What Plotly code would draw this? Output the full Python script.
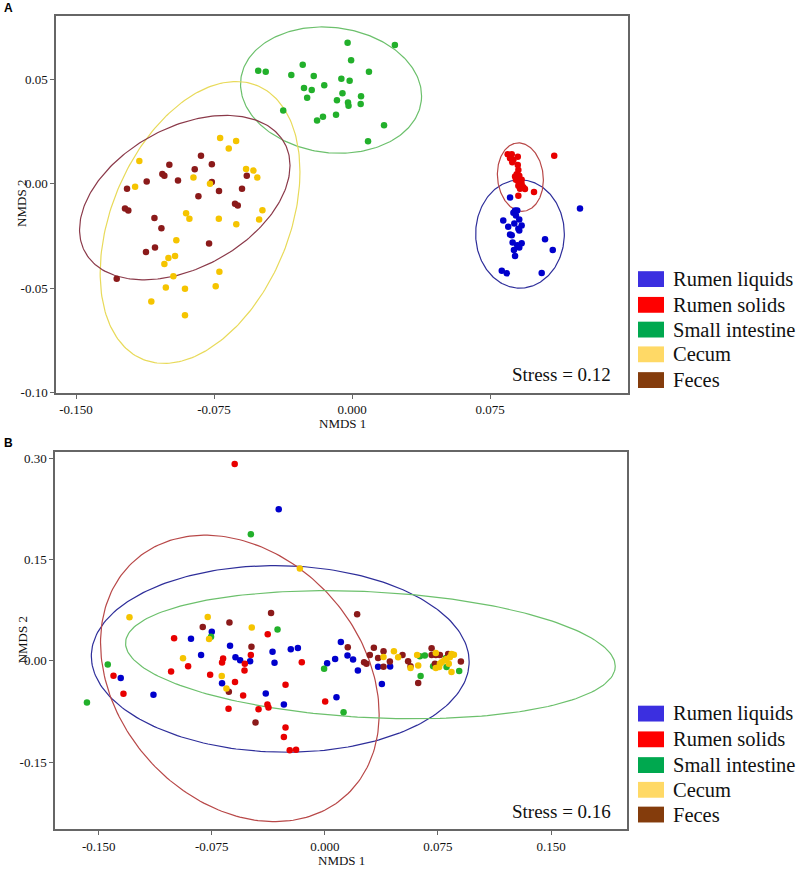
import numpy as np
import plotly.graph_objects as go

W, H = 800, 876
SERIF = "Liberation Serif, Times New Roman, serif"

groups = ["Rumen liquids", "Rumen solids", "Small intestine", "Cecum", "Feces"]
point_colors = ["#0000CC", "#E80000", "#22B02B", "#F5C400", "#8B1A1A"]
ellipse_colors = ["#2E2E9A", "#B84848", "#6CC06C", "#E8DA5A", "#8B3A4A"]
legend_colors = ["#3B2FE0", "#FF0000", "#00A84F", "#FFD966", "#843C0C"]

# ---------------- Panel A data ----------------
a_liq_x = [0.0859, 0.1239, 0.0886, 0.0898, 0.0877, 0.0891, 0.0822, 0.0909, 0.0882, 0.0922,
           0.0849, 0.0904, 0.0859, 0.0868, 0.1049, 0.0909, 0.0873, 0.0922, 0.0898, 0.0909,
           0.0880, 0.1091, 0.0886, 0.0814, 0.0841, 0.1031]
a_liq_y = [-0.0065, -0.0118, -0.0128, -0.0128, -0.0139, -0.0152, -0.0175, -0.0171, -0.0190, -0.0199,
           -0.0205, -0.0215, -0.0242, -0.0246, -0.0265, -0.0223, -0.0281, -0.0284, -0.0294, -0.0305,
           -0.0316, -0.0316, -0.0345, -0.0416, -0.0428, -0.0427]
a_sol_x = [0.0846, 0.0868, 0.0901, 0.0859, 0.0877, 0.0871, 0.0901, 0.0904, 0.0895, 0.0909,
           0.0891, 0.0904, 0.0913, 0.0922, 0.0904, 0.0931, 0.0913, 0.0940, 0.0989, 0.0904,
           0.1099, 0.0922, 0.0886]
a_sol_y = [0.0141, 0.0141, 0.0129, 0.0122, 0.0114, 0.0103, 0.0090, 0.0066, 0.0046, 0.0038,
           0.0019, 0.0011, 0.0003, -0.0001, -0.0009, -0.0016, -0.0024, -0.0025, -0.0039, -0.0057,
           0.0134, 0.0019, 0.0035]
a_si_x = [-0.0024, 0.0233, -0.0268, -0.0005, -0.0510, -0.0469, -0.0330, -0.0208, -0.0058, -0.0013,
          0.0092, -0.0151, -0.0261, -0.0219, -0.0052, -0.0244, -0.0082, 0.0049, -0.0022, -0.0019,
          0.0047, -0.0374, -0.0158, -0.0190, -0.0087, 0.0174, 0.0087]
a_si_y = [0.0674, 0.0664, 0.0569, 0.0591, 0.0540, 0.0536, 0.0520, 0.0515, 0.0502, 0.0493,
          0.0536, 0.0471, 0.0458, 0.0449, 0.0433, 0.0412, 0.0400, 0.0418, 0.0389, 0.0373,
          0.0381, 0.0351, 0.0321, 0.0303, 0.0330, 0.0280, 0.0204]
a_cec_x = [-0.0717, -0.0630, -0.0670, -0.1156, -0.0576, -0.0536, -0.0515, -0.1179, -0.0862, -0.0772,
           -0.0902, -0.0884, -0.0487, -0.0505, -0.0724, -0.0629, -0.0955, -0.0998, -0.0962, -0.1020,
           -0.0721, -0.0971, -0.0741, -0.1012, -0.0908, -0.1091, -0.0908]
a_cec_y = [0.0219, 0.0205, 0.0169, 0.0109, 0.0071, 0.0063, 0.0030, -0.0014, 0.0030, 0.0000,
           -0.0141, -0.0167, -0.0127, -0.0171, -0.0167, -0.0194, -0.0270, -0.0355, -0.0345, -0.0384,
           -0.0420, -0.0442, -0.0490, -0.0496, -0.0502, -0.0563, -0.0629]
a_fec_x = [-0.0821, -0.0993, -0.0762, -0.1031, -0.1020, -0.0855, -0.1116, -0.0946, -0.0762, -0.0572,
           -0.1223, -0.0723, -0.0598, -0.0835, -0.1234, -0.1216, -0.0636, -0.0621, -0.1074, -0.1036,
           -0.0777, -0.1120, -0.1071, -0.1279]
a_fec_y = [0.0134, 0.0091, 0.0093, 0.0047, 0.0039, 0.0070, 0.0011, 0.0016, 0.0008, 0.0039,
           -0.0024, -0.0035, -0.0024, -0.0060, -0.0118, -0.0128, -0.0095, -0.0104, -0.0163, -0.0213,
           -0.0286, -0.0326, -0.0305, -0.0454]

# ellipse params: centre x, centre y, half-width, half-height, skew (sin of phase)
a_ell_cx = [0.0913, 0.0915, -0.0114, -0.0826, -0.0909]
a_ell_cy = [-0.0240, 0.0032, 0.0448, -0.0185, -0.0066]
a_ell_rx = [0.0241, 0.0125, 0.0492, 0.0543, 0.0572]
a_ell_ry = [0.0259, 0.01635, 0.0302, 0.0674, 0.0393]
a_ell_s = [0.0, -0.08, -0.094, 0.36, 0.39]

# ---------------- Panel B data ----------------
b_liq_x = [-0.0306, -0.0750, -0.0888, -0.0629, -0.0821, -0.0593, -0.0562, -0.1354, -0.0682, -0.1137,
           -0.0347, -0.0226, -0.0179, -0.0496, -0.0334, 0.0106, 0.0150, 0.0187, 0.0068, 0.0015,
           0.0219, 0.0353, 0.0433, 0.0378, -0.0392, -0.0272, 0.0077]
b_liq_y = [0.2248, 0.0430, 0.0327, 0.0224, 0.0088, 0.0054, 0.0010, -0.0254, -0.0333, -0.0503,
           0.0136, 0.0172, 0.0191, -0.0004, -0.0029, 0.0279, 0.0078, 0.0019, 0.0029, -0.0034,
           -0.0142, -0.0088, -0.0084, -0.0342, -0.0484, -0.0645, -0.0538]
b_sol_x = [-0.0598, -0.1000, -0.0675, -0.0682, -0.0907, -0.1020, -0.0761, -0.1402, -0.0596, -0.1336,
           -0.0639, -0.0379, -0.0491, -0.0531, -0.0533, -0.0153, -0.0261, -0.0542, -0.0381, -0.0374,
           -0.0440, 0.0002, -0.0261, -0.0272, -0.0233, -0.0191]
b_sol_y = [0.2918, 0.0337, 0.0034, -0.0025, -0.0078, -0.0157, -0.0205, -0.0220, -0.0312, -0.0488,
           -0.0708, 0.0396, 0.0088, -0.0044, -0.0142, -0.0019, -0.0352, -0.0513, -0.0645, -0.0689,
           -0.0718, -0.0601, -0.0987, -0.1129, -0.1324, -0.1315]
b_si_x = [-0.0491, -0.0755, -0.1440, -0.1578, -0.0314, -0.0005, 0.0124, 0.0630, 0.0663, 0.0718,
          0.0807, 0.0891, 0.0635, 0.0803]
b_si_y = [0.1877, 0.0356, -0.0054, -0.0616, 0.0465, -0.0117, -0.0762, 0.0069, 0.0078, -0.0078,
          -0.0092, -0.0151, -0.0224, 0.0044]
b_cec_x = [-0.0166, -0.1296, -0.0777, -0.0768, -0.0941, -0.0684, -0.0653, -0.0485, 0.0389, 0.0458,
           0.0486, 0.0568, 0.0619, 0.0612, 0.0736, 0.0840, 0.0856, 0.0829, 0.0807, 0.0791,
           0.0774, 0.0763, 0.0736, 0.0758, 0.0822, 0.0840]
b_cec_y = [0.1368, 0.0645, 0.0650, 0.0323, 0.0040, -0.0224, -0.0411, 0.0494, 0.0059, 0.0142,
           0.0054, -0.0107, -0.0069, 0.0088, 0.0117, 0.0103, 0.0092, 0.0054, 0.0029, 0.0004,
           -0.0019, -0.0044, -0.0107, -0.0092, -0.0044, -0.0166]
b_fec_x = [-0.0810, -0.0633, -0.0637, -0.0357, 0.0214, -0.0487, 0.0152, 0.0260, 0.0276, 0.0298,
           0.0325, 0.0353, 0.0389, 0.0431, 0.0389, -0.0460, 0.0515, 0.0552, 0.0568, 0.0708,
           0.0708, 0.0736, 0.0763, 0.0818, 0.0730, 0.0902, 0.0619]
b_fec_y = [0.0503, 0.0567, -0.0459, 0.0708, 0.0689, 0.0210, 0.0201, -0.0019, -0.0044, 0.0088,
           0.0195, 0.0044, 0.0142, -0.0010, -0.0088, -0.0913, 0.0088, -0.0004, -0.0078, 0.0186,
           0.0088, 0.0088, 0.0088, 0.0103, -0.0044, -0.0010, -0.0327]

b_ell_cx = [-0.0296, -0.0564, 0.0302]
b_ell_cy = [0.0029, -0.0260, 0.0091]
b_ell_rx = [0.1253, 0.0924, 0.1624]
b_ell_ry = [0.1383, 0.2122, 0.0949]
b_ell_s = [-0.03, -0.25, -0.18]
b_ell_groups = [0, 1, 2]

a_ticks_x = [-0.150, -0.075, 0.0, 0.075]
a_ticks_x_text = ["-0.150", "-0.075", "0.000", "0.075"]
a_ticks_y = [-0.10, -0.05, 0.0, 0.05]
a_ticks_y_text = ["-0.10", "-0.05", "0.00", "0.05"]
b_ticks_x = [-0.150, -0.075, 0.0, 0.075, 0.150]
b_ticks_x_text = ["-0.150", "-0.075", "0.000", "0.075", "0.150"]
b_ticks_y = [-0.15, 0.0, 0.15, 0.30]
b_ticks_y_text = ["-0.15", "0.00", "0.15", "0.30"]
stress_a = "Stress = 0.12"
stress_b = "Stress = 0.16"


def ellipse(cx, cy, rx, ry, s):
    d = np.arcsin(s)
    t = np.linspace(0, 2 * np.pi, 241)
    return cx + rx * np.cos(t), cy + ry * np.sin(t + d)


fig = go.Figure()

# Panel A ellipses
for i in range(5):
    ex, ey = ellipse(a_ell_cx[i], a_ell_cy[i], a_ell_rx[i], a_ell_ry[i], a_ell_s[i])
    fig.add_trace(go.Scatter(x=ex, y=ey, mode="lines", xaxis="x", yaxis="y",
                             line=dict(color=ellipse_colors[i], width=1.2),
                             showlegend=False, hoverinfo="skip"))
# Panel B ellipses
for k, gi in enumerate(b_ell_groups):
    ex, ey = ellipse(b_ell_cx[k], b_ell_cy[k], b_ell_rx[k], b_ell_ry[k], b_ell_s[k])
    fig.add_trace(go.Scatter(x=ex, y=ey, mode="lines", xaxis="x2", yaxis="y2",
                             line=dict(color=ellipse_colors[gi], width=1.2),
                             showlegend=False, hoverinfo="skip"))

a_pts = [(a_liq_x, a_liq_y), (a_sol_x, a_sol_y), (a_si_x, a_si_y), (a_fec_x, a_fec_y), (a_cec_x, a_cec_y)]
b_pts = [(b_liq_x, b_liq_y), (b_sol_x, b_sol_y), (b_si_x, b_si_y), (b_fec_x, b_fec_y), (b_cec_x, b_cec_y)]
order = [0, 1, 2, 4, 3]
for (px, py), gi in zip(a_pts, order):
    fig.add_trace(go.Scatter(x=px, y=py, mode="markers", xaxis="x", yaxis="y", name=groups[gi],
                             marker=dict(color=point_colors[gi], size=6.5, line=dict(width=0)),
                             showlegend=False))
for (px, py), gi in zip(b_pts, order):
    fig.add_trace(go.Scatter(x=px, y=py, mode="markers", xaxis="x2", yaxis="y2", name=groups[gi],
                             marker=dict(color=point_colors[gi], size=6.5, line=dict(width=0)),
                             showlegend=False))


def PX(x):
    return x / W


def PY(y):
    return 1 - y / H


axis_common = dict(showgrid=False, zeroline=False, showline=True, mirror=True,
                   linecolor="#666666", linewidth=1.5, ticks="outside", ticklen=4,
                   tickcolor="#666666", tickwidth=1.2,
                   tickfont=dict(family=SERIF, size=13, color="#111111"), tickmode="array")

fig.update_layout(
    width=W, height=H, margin=dict(l=0, r=0, t=0, b=0),
    paper_bgcolor="white", plot_bgcolor="white", showlegend=False,
    xaxis=dict(domain=[PX(56), PX(628)], range=[-0.1609, 0.150], anchor="y",
               tickvals=a_ticks_x, ticktext=a_ticks_x_text, **axis_common),
    yaxis=dict(domain=[PY(396), PY(15)], range=[-0.10, 0.0803], anchor="x",
               tickvals=a_ticks_y, ticktext=a_ticks_y_text, **axis_common),
    xaxis2=dict(domain=[PX(55), PX(627)], range=[-0.179, 0.2004], anchor="y2",
                tickvals=b_ticks_x, ticktext=b_ticks_x_text, **axis_common),
    yaxis2=dict(domain=[PY(837), PY(456)], range=[-0.2497, 0.309], anchor="x2",
                tickvals=b_ticks_y, ticktext=b_ticks_y_text, **axis_common),
)

ann = []
shapes = []
# panel letters
ann.append(dict(text="<b>A</b>", x=PX(2), y=PY(7), xref="paper", yref="paper", xanchor="left",
                yanchor="middle", showarrow=False, font=dict(family="Liberation Sans, Arial", size=12, color="black")))
ann.append(dict(text="<b>B</b>", x=PX(2), y=PY(447), xref="paper", yref="paper", xanchor="left",
                yanchor="middle", showarrow=False, font=dict(family="Liberation Sans, Arial", size=12, color="black")))
# axis titles
for cx, cy in [(342, 427), (341, 868)]:
    ann.append(dict(text="NMDS 1", x=PX(cx), y=PY(cy), xref="paper", yref="paper", showarrow=False,
                    xanchor="center", yanchor="middle", font=dict(family=SERIF, size=13, color="#111111")))
for cx, cy in [(22, 205), (22, 646)]:
    ann.append(dict(text="NMDS 2", x=PX(cx), y=PY(cy), xref="paper", yref="paper", showarrow=False,
                    textangle=-90, xanchor="center", yanchor="middle",
                    font=dict(family=SERIF, size=13, color="#111111")))
# stress
ann.append(dict(text=stress_a, x=PX(613), y=PY(377), xref="paper", yref="paper", showarrow=False,
                xanchor="right", yanchor="middle", font=dict(family=SERIF, size=19, color="#111111")))
ann.append(dict(text=stress_b, x=PX(613), y=PY(819), xref="paper", yref="paper", showarrow=False,
                xanchor="right", yanchor="middle", font=dict(family=SERIF, size=19, color="#111111")))
# legends
for ys in ([281, 307, 332, 357, 383], [720, 746, 772, 797, 822]):
    for i, yc in enumerate(ys):
        shapes.append(dict(type="rect", xref="paper", yref="paper", x0=PX(638), x1=PX(664),
                           y0=PY(yc + 8), y1=PY(yc - 8), fillcolor=legend_colors[i], line=dict(width=0)))
        ann.append(dict(text=groups[i], x=PX(671), y=PY(yc), xref="paper", yref="paper", showarrow=False,
                        xanchor="left", yanchor="middle", font=dict(family=SERIF, size=20.5, color="#111111")))

fig.update_layout(annotations=ann, shapes=shapes)
fig.write_html("out.html", config={"displayModeBar": False},
               post_script="document.body.style.margin='0px';document.body.style.overflow='hidden';")
